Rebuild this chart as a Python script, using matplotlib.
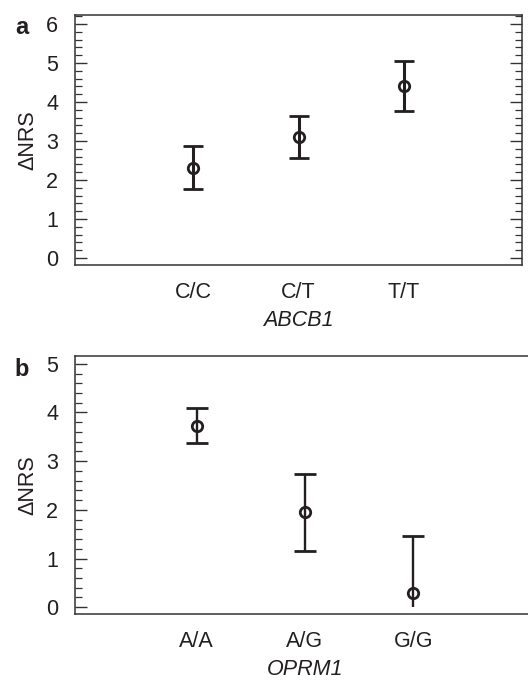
import numpy as np
import matplotlib
matplotlib.use('Agg')
import matplotlib.pyplot as plt
from matplotlib.ticker import MultipleLocator

plt.rcParams['font.family'] = ['Liberation Sans', 'DejaVu Sans']

# panel a: ABCB1
abcb1_geno = ['C/C', 'C/T', 'T/T']
abcb1_mean = [2.30, 3.10, 4.42]
abcb1_low = [1.77, 2.57, 3.77]
abcb1_high = [2.88, 3.65, 5.05]

# panel b: OPRM1
oprm1_geno = ['A/A', 'A/G', 'G/G']
oprm1_mean = [3.73, 1.95, 0.30]
oprm1_low = [3.37, 1.15, 0.0]
oprm1_high = [4.10, 2.74, 1.47]
oprm1_lowcap = [True, True, False]

ink = '#231f20'
fs = 15.5

fig = plt.figure(figsize=(5.28, 6.8), dpi=100)
ax_a = fig.add_axes([75/528, 1 - 265/680, 447/528, 250/680])
ax_b = fig.add_axes([75/528, 1 - 614/680, 460/528, 258/680])


def draw_panel(ax, geno, mean, low, high, lowcap, ylim, ymax_tick, gene, right, lw, cap):
    x = np.arange(1, len(geno) + 1)
    for xi, m, lo, hi, lc in zip(x, mean, low, high, lowcap):
        _, caps, _ = ax.errorbar([xi], [m], yerr=[[m - lo], [hi - m]], fmt='o',
                                 mfc='none', mec=ink, mew=2.0, ms=7.5,
                                 color=ink, elinewidth=lw, capsize=cap,
                                 capthick=lw)
        if not lc:
            caps[0].set_visible(False)
    ax.set_xlim(-0.12, 4.12)
    ax.set_ylim(*ylim)
    ax.set_xticks(x)
    ax.set_xticklabels(geno, fontsize=fs, color=ink)
    ax.set_yticks(range(0, ymax_tick + 1))
    ax.yaxis.set_minor_locator(MultipleLocator(0.2))
    ax.tick_params(axis='y', which='both', direction='in', left=True, right=right,
                   labelsize=fs, labelcolor=ink, color='#333333', pad=12)
    ax.tick_params(axis='y', which='major', length=8.5, width=1)
    ax.tick_params(axis='y', which='minor', length=5, width=0.9)
    ax.tick_params(axis='x', length=0, pad=12)
    for s in ax.spines.values():
        s.set_color('#333333')
        s.set_linewidth(1.1)
    ax.set_ylabel('\u0394NRS', fontsize=fs, color=ink, labelpad=6)
    ax.set_xlabel(gene, fontsize=fs, color=ink, style='italic', labelpad=5)


draw_panel(ax_a, abcb1_geno, abcb1_mean, abcb1_low, abcb1_high, [True] * 3,
           (-0.18, 6.23), 6, 'ABCB1', True, 2.2, 7.4)
draw_panel(ax_b, oprm1_geno, oprm1_mean, oprm1_low, oprm1_high, oprm1_lowcap,
           (-0.14, 5.16), 5, 'OPRM1', False, 1.7, 8)

fig.text(22/528, 1 - 16/680, 'a', fontsize=17, fontweight='bold', color=ink,
         ha='center', va='top')
fig.text(22/528, 1 - 358/680, 'b', fontsize=17, fontweight='bold', color=ink,
         ha='center', va='top')

fig.savefig('out.png', dpi=100)
